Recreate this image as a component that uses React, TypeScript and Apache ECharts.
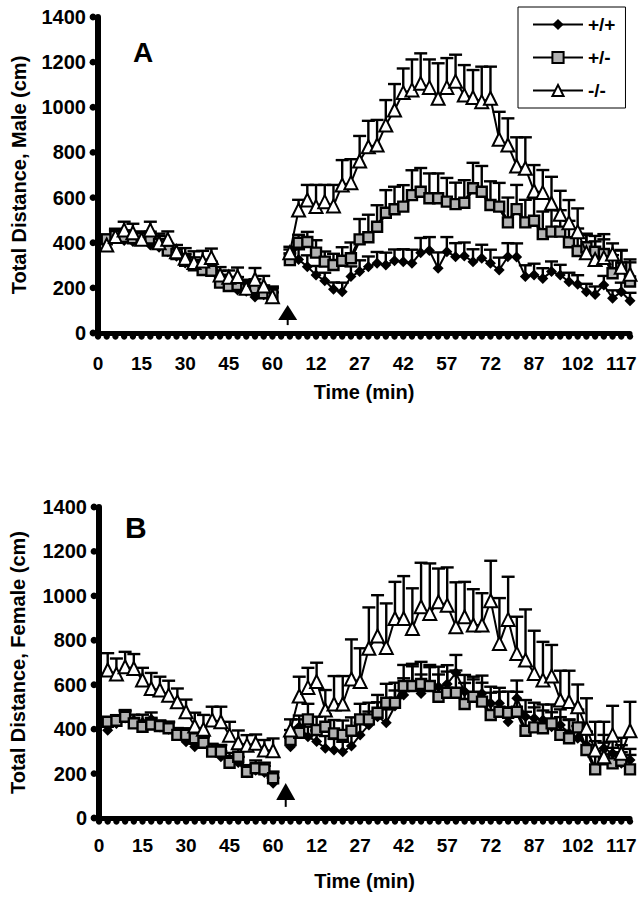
import React, { useEffect, useRef } from "react";
import * as echarts from "echarts";

// ---------- categories / tick labels ----------
const preMinutes = [0, 3, 6, 9, 12, 15, 18, 21, 24, 27, 30, 33, 36, 39, 42, 45, 48, 51, 54, 57, 60];
const postMinutes = [0, 3, 6, 9, 12, 15, 18, 21, 24, 27, 30, 33, 36, 39, 42, 45, 48, 51, 54, 57, 60, 63, 66, 69, 72, 75, 78, 81, 84, 87, 90, 93, 96, 99, 102, 105, 108, 111, 114, 117, 120];
const yTicks = [0, 200, 400, 600, 800, 1000, 1200, 1400];
const seriesNames = ["+/+", "+/-", "-/-"];

// ---------- Male (panel A): pre-injection 3..60 min ----------
const maleWTPre = [400, 420, 410, 405, 410, 390, 380, 360, 340, 310, 300, 295, 280, 250, 220, 190, 185, 160, 170, 160];
const maleWTPreErr = [20, 30, 25, 25, 20, 25, 30, 25, 20, 25, 20, 25, 30, 25, 20, 25, 20, 25, 30, 20];
const maleHetPre = [415, 430, 425, 420, 420, 419, 395, 365, 350, 320, 300, 279, 276, 223, 208, 213, 200, 198, 176, 170];
const maleHetPreErr = [20, 25, 30, 25, 25, 30, 35, 30, 25, 30, 35, 30, 40, 35, 30, 35, 30, 40, 35, 30];
const maleKOPre = [390, 427, 456, 444, 415, 456, 400, 415, 360, 331, 312, 319, 334, 257, 247, 250, 198, 238, 208, 161];
const maleKOPreErr = [45, 35, 37, 40, 35, 37, 40, 35, 30, 45, 50, 45, 40, 35, 30, 40, 38, 50, 45, 45];

// ---------- Male (panel A): post-injection 3..120 min ----------
const maleWTPost = [330, 326, 294, 257, 232, 194, 183, 250, 272, 294, 309, 301, 320, 316, 309, 356, 365, 287, 360, 338, 341, 316, 331, 309, 279, 338, 337, 250, 257, 242, 272, 257, 227, 216, 183, 171, 213, 154, 183, 143];
const maleWTPostErr = [40, 45, 50, 40, 35, 30, 40, 45, 50, 45, 50, 55, 50, 55, 60, 65, 60, 70, 65, 60, 60, 55, 60, 60, 55, 60, 60, 50, 50, 45, 45, 45, 40, 40, 35, 35, 40, 35, 40, 35];
const maleHetPost = [323, 400, 403, 356, 316, 301, 320, 331, 415, 424, 471, 533, 548, 560, 611, 626, 597, 597, 582, 571, 577, 641, 626, 567, 560, 490, 549, 490, 497, 438, 449, 449, 402, 363, 380, 360, 350, 265, 290, 228];
const maleHetPostErr = [30, 35, 45, 55, 45, 50, 60, 70, 90, 100, 95, 100, 100, 95, 110, 105, 110, 110, 105, 95, 100, 113, 114, 105, 105, 110, 107, 100, 100, 100, 95, 95, 95, 100, 60, 70, 65, 80, 75, 85];
const maleKOPost = [356, 545, 589, 560, 582, 563, 656, 666, 762, 825, 833, 921, 988, 1065, 1077, 1106, 1088, 1040, 1088, 1115, 1054, 1043, 1025, 1040, 858, 833, 740, 730, 629, 622, 575, 526, 489, 449, 356, 326, 334, 350, 291, 260];
const maleKOPostErr = [26, 45, 67, 96, 74, 93, 110, 104, 111, 115, 111, 111, 115, 107, 135, 133, 124, 155, 130, 118, 133, 122, 155, 140, 122, 118, 127, 137, 115, 100, 117, 104, 100, 103, 78, 80, 104, 47, 77, 66];

// ---------- Female (panel B): pre-injection 3..60 min ----------
const femWTPre = [395, 425, 450, 440, 430, 445, 410, 400, 375, 343, 321, 335, 300, 276, 263, 250, 204, 215, 205, 156];
const femWTPreErr = [25, 30, 30, 25, 35, 30, 25, 30, 30, 30, 25, 30, 30, 25, 30, 25, 30, 25, 30, 25];
const femHetPre = [433, 438, 456, 426, 411, 421, 414, 404, 374, 374, 359, 339, 299, 299, 249, 276, 208, 224, 219, 179];
const femHetPreErr = [20, 25, 30, 25, 25, 30, 25, 30, 25, 30, 30, 25, 35, 30, 30, 35, 30, 35, 30, 30];
const femKOPre = [666, 648, 681, 673, 621, 583, 576, 553, 523, 478, 414, 399, 441, 433, 373, 339, 328, 336, 306, 303];
const femKOPreErr = [76, 70, 67, 65, 55, 70, 60, 65, 60, 55, 60, 65, 60, 68, 60, 55, 45, 40, 45, 55];

// ---------- Female (panel B): post-injection 3..120 min ----------
const femWTPost = [321, 411, 366, 344, 314, 306, 298, 324, 374, 419, 456, 429, 504, 554, 603, 561, 599, 591, 603, 654, 569, 554, 561, 516, 516, 433, 539, 456, 449, 441, 411, 419, 381, 359, 329, 291, 314, 291, 246, 261];
const femWTPostErr = [40, 50, 45, 50, 55, 50, 45, 50, 55, 60, 65, 60, 70, 75, 80, 85, 80, 90, 85, 80, 75, 70, 80, 75, 70, 65, 80, 75, 70, 70, 65, 70, 60, 55, 60, 55, 60, 55, 50, 50];
const femHetPost = [351, 384, 444, 396, 411, 381, 374, 393, 444, 444, 474, 519, 519, 594, 594, 603, 594, 546, 564, 564, 513, 546, 524, 464, 478, 474, 478, 393, 408, 404, 426, 374, 359, 408, 306, 219, 264, 246, 258, 219];
const femHetPostErr = [45, 60, 70, 60, 55, 60, 65, 60, 70, 75, 80, 85, 90, 95, 100, 100, 95, 100, 95, 100, 95, 90, 85, 100, 90, 95, 90, 85, 90, 80, 85, 80, 85, 80, 70, 80, 75, 70, 70, 65];
const femKOPost = [396, 549, 588, 614, 486, 513, 513, 626, 614, 764, 819, 768, 898, 898, 853, 951, 921, 973, 958, 861, 906, 869, 869, 978, 786, 894, 741, 711, 651, 621, 639, 531, 524, 501, 404, 306, 276, 374, 291, 393];
const femKOPostErr = [48, 87, 88, 85, 90, 126, 126, 178, 150, 184, 184, 198, 165, 191, 181, 198, 225, 150, 170, 200, 157, 161, 143, 180, 204, 192, 165, 228, 192, 172, 140, 132, 139, 100, 135, 127, 157, 131, 70, 130];

// injection arrow (value units: tip, base, stem end)
const arrowMale = [124, 58, 35];
const arrowFemale = [158, 81, 50];

const FONT = "'Liberation Sans', Arial, sans-serif";
const categories = [...preMinutes, ...postMinutes].map(String);
const injectionIndex = preMinutes.length; // category index of post-injection 0 min

function joinSeg(pre: number[], post: number[]) {
  return [null, ...pre, null, ...post];
}
function errSeg(pre: number[], preErr: number[], post: number[], postErr: number[]) {
  const out: number[][] = [];
  pre.forEach((v, i) => out.push([i + 1, v, v + preErr[i]]));
  post.forEach((v, i) => out.push([injectionIndex + 1 + i, v, v + postErr[i]]));
  return out;
}

const lineStyles: any[] = [
  { symbol: "diamond", symbolSize: 11, itemStyle: { color: "#000", borderColor: "#000", borderWidth: 0 }, lineStyle: { color: "#000", width: 2 } },
  { symbol: "rect", symbolSize: 10, itemStyle: { color: "#b2b2b2", borderColor: "#000", borderWidth: 2.4 }, lineStyle: { color: "#000", width: 3.5 } },
  { symbol: "triangle", symbolSize: 13, itemStyle: { color: "#fff", borderColor: "#000", borderWidth: 2 }, lineStyle: { color: "#000", width: 2 } },
];

function errorSeries(data: number[][], grid: number, z: number) {
  return {
    type: "custom",
    xAxisIndex: grid,
    yAxisIndex: grid,
    z,
    silent: true,
    encode: { x: 0, y: [1, 2] },
    data,
    renderItem: (params: any, api: any) => {
      const x = api.value(0);
      const p0 = api.coord([x, api.value(1)]);
      const p1 = api.coord([x, api.value(2)]);
      const hw = 6.5;
      return {
        type: "group",
        children: [
          { type: "line", shape: { x1: p0[0], y1: p0[1], x2: p1[0], y2: p1[1] }, style: { stroke: "#000", lineWidth: 2.4 } },
          { type: "line", shape: { x1: p1[0] - hw, y1: p1[1], x2: p1[0] + hw, y2: p1[1] }, style: { stroke: "#000", lineWidth: 2.4 } },
        ],
      };
    },
  };
}

function arrowSeries(vals: number[], grid: number, frac: number) {
  return {
    type: "custom",
    xAxisIndex: grid,
    yAxisIndex: grid,
    silent: true,
    z: 6,
    data: [[injectionIndex, vals[0], vals[1], vals[2]]],
    renderItem: (params: any, api: any) => {
      const step = api.size([1, 0])[0];
      const tip = api.coord([api.value(0), api.value(1)]);
      const base = api.coord([api.value(0), api.value(2)]);
      const stem = api.coord([api.value(0), api.value(3)]);
      const x = tip[0] + step * frac;
      const hw = 9.5;
      return {
        type: "group",
        children: [
          { type: "polygon", shape: { points: [[x, tip[1]], [x - hw, base[1]], [x + hw, base[1]]] }, style: { fill: "#000" } },
          { type: "line", shape: { x1: x, y1: base[1], x2: x, y2: stem[1] }, style: { stroke: "#000", lineWidth: 2 } },
        ],
      };
    },
  };
}

// round tick "bumps" under the x axis, one per category
function xTickSeries(grid: number) {
  return {
    type: "custom",
    xAxisIndex: grid,
    yAxisIndex: grid,
    silent: true,
    z: 7,
    clip: false,
    data: categories.map((c, i) => [i, 0]),
    renderItem: (params: any, api: any) => {
      const p = api.coord([api.value(0), api.value(1)]);
      return { type: "circle", shape: { cx: p[0], cy: p[1] + 3.5, r: 3.2 }, style: { fill: "#000" } };
    },
  };
}
function yTickSeries(grid: number) {
  return {
    type: "custom",
    xAxisIndex: grid,
    yAxisIndex: grid,
    silent: true,
    z: 7,
    clip: false,
    data: yTicks.map((v) => [0, v]),
    renderItem: (params: any, api: any) => {
      const p = api.coord([api.value(0), api.value(1)]);
      return { type: "circle", shape: { cx: p[0] - 5, cy: p[1], r: 3.4 }, style: { fill: "#000" } };
    },
  };
}

function panelSeries(grid: number, means: number[][][], errs: number[][][]) {
  const out: any[] = [];
  means.forEach((m, k) => {
    out.push(errorSeries(errSeg(m[0], errs[k][0], m[1], errs[k][1]), grid, 2));
  });
  means.forEach((m, k) => {
    out.push({
      name: seriesNames[k],
      type: "line",
      xAxisIndex: grid,
      yAxisIndex: grid,
      data: joinSeg(m[0], m[1]),
      connectNulls: false,
      showSymbol: true,
      showAllSymbol: true,
      z: 3 + k,
      ...lineStyles[k],
    });
  });
  out.push(xTickSeries(grid), yTickSeries(grid));
  return out;
}

function xAxisOpt(grid: number, nameGap: number, margin: number) {
  return {
    type: "category",
    gridIndex: grid,
    data: categories,
    boundaryGap: false,
    name: "Time (min)",
    nameLocation: "middle",
    nameGap,
    nameTextStyle: { fontFamily: FONT, fontWeight: "bold", fontSize: 20, color: "#000" },
    axisLine: { lineStyle: { color: "#000", width: 5, cap: "round" } },
    axisTick: { show: false },
    axisLabel: { interval: 4, margin, fontFamily: FONT, fontWeight: "bold", fontSize: 19, color: "#000" },
    splitLine: { show: false },
  };
}

function yAxisOpt(grid: number, name: string, nameGap: number) {
  return {
    type: "value",
    gridIndex: grid,
    min: yTicks[0],
    max: yTicks[yTicks.length - 1],
    interval: yTicks[1] - yTicks[0],
    name,
    nameLocation: "middle",
    nameGap,
    nameTextStyle: { fontFamily: FONT, fontWeight: "bold", fontSize: 20, color: "#000" },
    axisLine: { show: true, lineStyle: { color: "#000", width: 6 } },
    axisTick: { show: false },
    axisLabel: { margin: 12, formatter: (v: number) => String(v), fontFamily: FONT, fontWeight: "bold", fontSize: 20, color: "#000" },
    splitLine: { show: false },
  };
}

export default function App() {
  const ref = useRef<HTMLDivElement>(null);
  useEffect(() => {
    document.body.style.margin = "0";
    const chart = echarts.init(ref.current!, null, { renderer: "svg" });
    const option: any = {
      animation: false,
      backgroundColor: "#fff",
      textStyle: { fontFamily: FONT },
      grid: [
        { left: 98, top: 17, width: 532, height: 316 },
        { left: 94, top: 507, width: 536, height: 311 },
      ],
      xAxis: [xAxisOpt(0, 49, 21), xAxisOpt(1, 53, 18)],
      yAxis: [yAxisOpt(0, "Total Distance, Male (cm)", 69), yAxisOpt(1, "Total Distance, Female (cm)", 71)],
      legend: {
        data: seriesNames,
        orient: "vertical",
        left: 518,
        top: 7,
        padding: [8, 10, 8, 14],
        itemGap: 14,
        itemWidth: 50,
        itemHeight: 14,
        borderColor: "#000",
        borderWidth: 1,
        borderRadius: 0,
        textStyle: { fontFamily: FONT, fontWeight: "bold", fontSize: 19, color: "#000" },
      },
      graphic: [
        { type: "text", left: 133, top: 38, style: { text: "A", fontFamily: FONT, fontWeight: "bold", fontSize: 28, fill: "#000" } },
        { type: "text", left: 125, top: 512, style: { text: "B", fontFamily: FONT, fontWeight: "bold", fontSize: 30, fill: "#000" } },
      ],
      series: [
        ...panelSeries(
          0,
          [[maleWTPre, maleWTPost], [maleHetPre, maleHetPost], [maleKOPre, maleKOPost]],
          [[maleWTPreErr, maleWTPostErr], [maleHetPreErr, maleHetPostErr], [maleKOPreErr, maleKOPostErr]]
        ),
        ...panelSeries(
          1,
          [[femWTPre, femWTPost], [femHetPre, femHetPost], [femKOPre, femKOPost]],
          [[femWTPreErr, femWTPostErr], [femHetPreErr, femHetPostErr], [femKOPreErr, femKOPostErr]]
        ),
        arrowSeries(arrowMale, 0, 0.75),
        arrowSeries(arrowFemale, 1, 0.45),
      ],
    };
    chart.setOption(option);
    return () => chart.dispose();
  }, []);
  return <div ref={ref} style={{ width: 640, height: 899 }} />;
}
